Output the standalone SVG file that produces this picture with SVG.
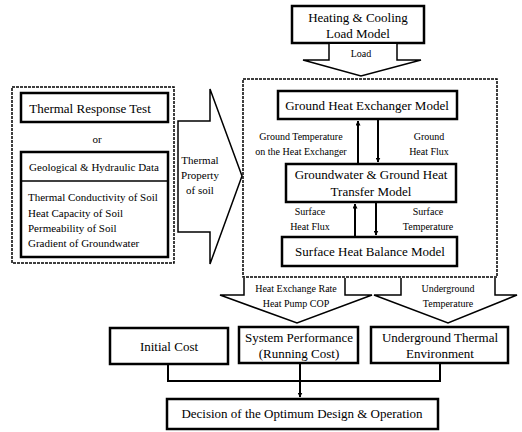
<svg xmlns="http://www.w3.org/2000/svg" width="522" height="432" viewBox="0 0 522 432">
<defs>
<marker id="ah" viewBox="0 0 10 10" refX="9" refY="5" markerWidth="5" markerHeight="5" orient="auto-start-reverse" markerUnits="userSpaceOnUse">
<path d="M0,0 L10,5 L0,10 Z" fill="#000"/>
</marker>
</defs>
<style>
text{font-family:'Liberation Serif','DejaVu Serif',serif;fill:#000;text-anchor:middle}
.box{fill:#fff;stroke:#000;stroke-width:2.5}
.dash{fill:none;stroke:#000;stroke-width:1.5;stroke-dasharray:3 1}
.fat{fill:#fff;stroke:#000;stroke-width:1.5;stroke-linejoin:miter}
.t13{font-size:13px}
.t11{font-size:11px}
.t10{font-size:10px}
.lf{text-anchor:start}
.ln{fill:none;stroke:#000;stroke-width:2}
</style>
<rect width="522" height="432" fill="#fff"/>
<g font-family="Liberation Serif, serif">

<g id="container">
<rect x="243" y="79" width="254" height="198" class="dash"/>
</g>

<g id="left-panel">
<rect x="12" y="87" width="162" height="176" class="dash"/>
</g>

<g id="heating-cooling">
<rect x="292" y="6" width="132" height="37" class="box"/>
<text x="358" y="22" class="t13">Heating &amp; Cooling</text>
<text x="358" y="38" class="t13">Load Model</text>
</g>

<g id="load-arrow">
<path d="M329,44 L329,60 L303,60 L361,76 L421,60 L397,60 L397,44" class="fat"/>
<text x="361" y="57" class="t10">Load</text>
</g>

<g id="thermal-response">
<rect x="21" y="93" width="147" height="29" class="box"/>
<text x="90" y="113" class="t13">Thermal Response Test</text>
</g>

<text x="97" y="143" class="t11">or</text>

<g id="geological">
<rect x="21" y="152" width="147" height="105" class="box"/>
<line x1="21" y1="181" x2="168" y2="181" stroke="#000" stroke-width="1.5"/>
<text x="94" y="171" class="t11">Geological &amp; Hydraulic Data</text>
<text x="28" y="201" class="t11 lf">Thermal Conductivity of Soil</text>
<text x="28" y="217" class="t11 lf">Heat Capacity of Soil</text>
<text x="28" y="232" class="t11 lf">Permeability of Soil</text>
<text x="28" y="247" class="t11 lf">Gradient of Groundwater</text>
</g>

<g id="thermal-property-arrow">
<path d="M178,121 L210,121 L210,89 L242,176 L210,264 L210,232 L178,232 Z" class="fat"/>
<text x="200" y="164" class="t11">Thermal</text>
<text x="200" y="179" class="t11">Property</text>
<text x="200" y="194" class="t11">of soil</text>
</g>

<g id="ghe">
<rect x="278" y="91" width="179" height="28" class="box"/>
<text x="367" y="110" class="t13">Ground Heat Exchanger Model</text>
</g>

<g id="gw">
<rect x="286" y="164" width="170" height="38" class="box"/>
<text x="371" y="179" class="t13">Groundwater &amp; Ground Heat</text>
<text x="371" y="196" class="t13">Transfer Model</text>
</g>

<g id="shb">
<rect x="282" y="237" width="175" height="29" class="box"/>
<text x="370" y="256" class="t13">Surface Heat Balance Model</text>
</g>

<g id="labels">
<text x="301" y="140" class="t10">Ground Temperature</text>
<text x="301" y="155" class="t10">on the Heat Exchanger</text>
<text x="429" y="140" class="t10">Ground</text>
<text x="429" y="155" class="t10">Heat Flux</text>
<text x="310" y="215" class="t10">Surface</text>
<text x="310" y="230" class="t10">Heat Flux</text>
<text x="428" y="215" class="t10">Surface</text>
<text x="428" y="230" class="t10">Temperature</text>
</g>

<g id="bottom-arrow-left">
<path d="M244,278 L244,295 L220,295 L297,323 L372,295 L345,295 L345,278" class="fat"/>
<text x="296" y="292" class="t10">Heat Exchange Rate</text>
<text x="296" y="307" class="t10">Heat Pump COP</text>
</g>

<g id="bottom-arrow-right">
<path d="M401,278 L401,295 L374,295 L448,323 L517,295 L495,295 L495,278" class="fat"/>
<text x="448" y="292" class="t10">Underground</text>
<text x="448" y="307" class="t10">Temperature</text>
</g>

<g id="initial-cost">
<rect x="110" y="328" width="118" height="36" class="box"/>
<text x="169" y="351" class="t13">Initial Cost</text>
</g>

<g id="system-performance">
<rect x="239" y="327" width="119" height="36" class="box"/>
<text x="299" y="342" class="t13">System Performance</text>
<text x="299" y="358" class="t13">(Running Cost)</text>
</g>

<g id="underground-thermal">
<rect x="371" y="327" width="137" height="36" class="box"/>
<text x="440" y="342" class="t13">Underground Thermal</text>
<text x="440" y="358" class="t13">Environment</text>
</g>

<g id="decision">
<rect x="167" y="399" width="271" height="30" class="box"/>
<text x="302" y="418" class="t13">Decision of the Optimum Design &amp; Operation</text>
</g>

<g id="connectors">
<line x1="358" y1="163" x2="358" y2="121" class="ln" marker-end="url(#ah)"/>
<line x1="378" y1="120" x2="378" y2="162" class="ln" marker-end="url(#ah)"/>
<line x1="355" y1="236" x2="355" y2="204" class="ln" marker-end="url(#ah)"/>
<line x1="376" y1="203" x2="376" y2="235" class="ln" marker-end="url(#ah)"/>
<polyline points="168,365 168,381 440,381 440,364" class="ln"/>
<line x1="300" y1="364" x2="300" y2="397" class="ln" marker-end="url(#ah)"/>
</g>
</g>
</svg>
